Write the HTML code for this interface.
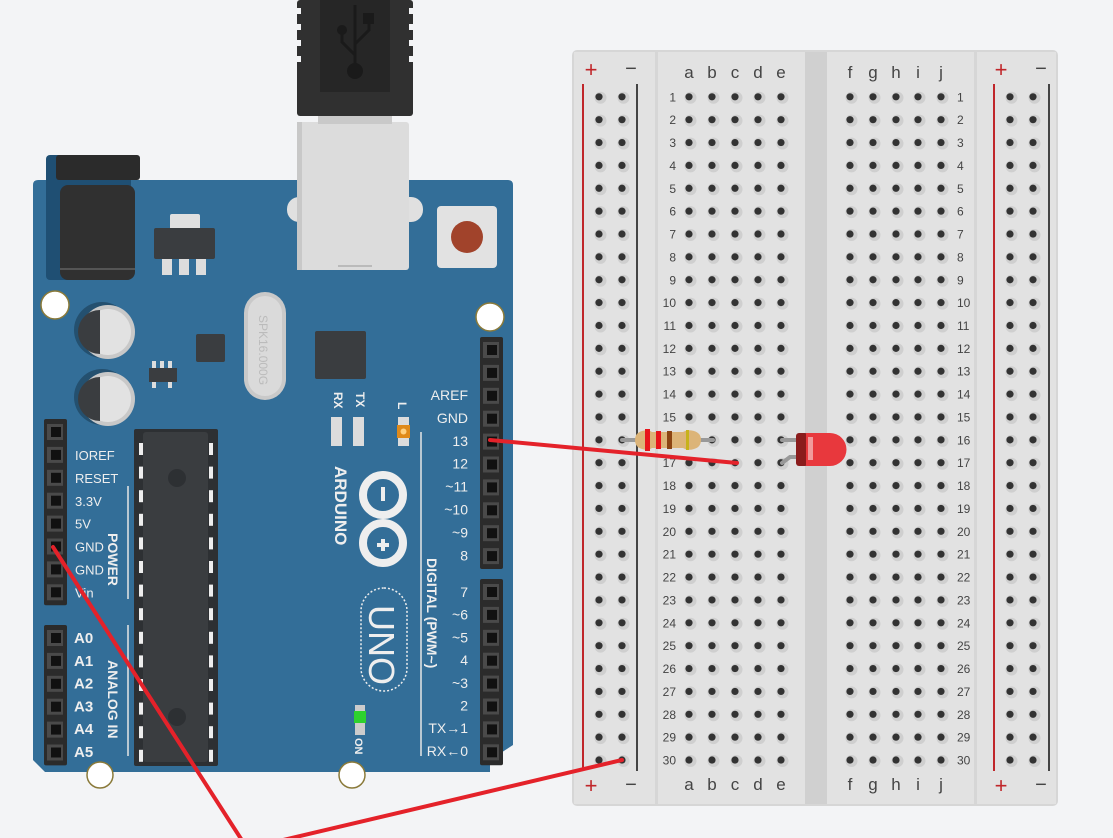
<!DOCTYPE html>
<html><head><meta charset="utf-8"><style>
html,body{margin:0;padding:0;background:#f3f4f6;}
svg{display:block;}
text{font-family:"Liberation Sans","DejaVu Sans",sans-serif;}
</style></head><body>
<svg id="s" width="1113" height="838" viewBox="0 0 1113 838" xmlns="http://www.w3.org/2000/svg">
<rect width="1113" height="838" fill="#f3f4f6"/>
<!-- Breadboard -->
<rect x="572" y="50" width="486" height="756" rx="5" fill="#d6d6d6"/>
<rect x="574" y="52" width="81" height="752" fill="#e2e2e2"/>
<rect x="658" y="52" width="147" height="752" fill="#e2e2e2"/>
<rect x="805" y="52" width="22" height="752" fill="#d0d0d0"/>
<rect x="827" y="52" width="147" height="752" fill="#e2e2e2"/>
<rect x="977" y="52" width="79" height="752" fill="#e2e2e2"/>
<line x1="583" y1="84" x2="583" y2="771" stroke="#c0262a" stroke-width="2"/>
<line x1="637" y1="84" x2="637" y2="771" stroke="#444" stroke-width="2"/>
<line x1="994" y1="84" x2="994" y2="771" stroke="#c0262a" stroke-width="2"/>
<line x1="1049" y1="84" x2="1049" y2="771" stroke="#444" stroke-width="2"/>
<g font-size="22" fill="#c0262a" text-anchor="middle"><text x="591" y="77">+</text><text x="591" y="793">+</text><text x="1001" y="77">+</text><text x="1001" y="793">+</text></g>
<g font-size="20" fill="#444" text-anchor="middle"><text x="631" y="75">−</text><text x="631" y="791">−</text><text x="1041" y="75">−</text><text x="1041" y="791">−</text></g>
<g id="bb"></g>
<!-- Arduino board -->
<path d="M38 180 H508 Q513 180 513 185 V745 L490 760 V772 H45 L33 760 V185 Q33 180 38 180 Z" fill="#336e98"/>
<!-- USB -->
<rect x="287" y="197" width="136" height="25" rx="12" fill="#e0e0e0"/>
<rect x="297" y="122" width="112" height="148" rx="3" fill="#dcdcdc"/>
<rect x="297" y="122" width="5" height="148" fill="#c8c8c8"/>
<line x1="338" y1="266" x2="372" y2="266" stroke="#999" stroke-width="1"/>
<rect x="318" y="114" width="74" height="10" fill="#c9c9c9"/>
<rect x="297" y="0" width="116" height="116" rx="3" fill="#303030"/>
<rect x="320" y="0" width="70" height="92" fill="#262626"/>
<g fill="#f3f4f6"><rect x="297" y="8" width="4" height="6"/><rect x="297" y="24" width="4" height="6"/><rect x="297" y="40" width="4" height="6"/><rect x="297" y="56" width="4" height="6"/><rect x="409" y="8" width="4" height="6"/><rect x="409" y="24" width="4" height="6"/><rect x="409" y="40" width="4" height="6"/><rect x="409" y="56" width="4" height="6"/></g>
<g stroke="#1a1a1a" stroke-width="3" fill="none"><line x1="355" y1="5" x2="355" y2="70"/><path d="M342 30 V42 L355 55"/><path d="M369 18 V30 L355 44"/></g>
<circle cx="355" cy="71" r="8" fill="#1a1a1a"/><circle cx="342" cy="30" r="5" fill="#1a1a1a"/><rect x="363" y="13" width="11" height="11" fill="#1a1a1a"/>
<!-- Power jack -->
<rect x="46" y="155" width="85" height="125" rx="4" fill="#1f4f73"/>
<rect x="56" y="155" width="84" height="25" rx="3" fill="#2b2b2b"/>
<rect x="60" y="185" width="75" height="95" rx="8" fill="#303030"/>
<rect x="60" y="268" width="75" height="2" fill="#555"/>
<!-- regulator -->
<rect x="170" y="214" width="30" height="16" rx="2" fill="#e0e0e0"/>
<rect x="154" y="228" width="61" height="31" rx="2" fill="#3a3d40"/>
<rect x="162" y="259" width="10" height="16" fill="#ddd"/><rect x="179" y="259" width="10" height="16" fill="#ddd"/><rect x="196" y="259" width="10" height="16" fill="#ddd"/>
<!-- reset -->
<rect x="437" y="206" width="60" height="62" rx="4" fill="#e2e2e2"/>
<circle cx="467" cy="237" r="16" fill="#a1432b"/>
<!-- mount holes -->
<g fill="#fff" stroke="#8a7a3a" stroke-width="1.5"><circle cx="55" cy="305" r="14"/><circle cx="490" cy="317" r="14"/><circle cx="100" cy="775" r="13"/><circle cx="352" cy="775" r="13"/></g>
<!-- caps -->
<g><circle cx="102" cy="330" r="28" fill="#24506f"/><circle cx="108" cy="332" r="27" fill="#c8c8c8"/><circle cx="108" cy="332" r="23" fill="#e2e2e2"/><path d="M100 310 A22 22 0 0 0 100 354 Z" fill="#3a3d40"/>
<circle cx="102" cy="397" r="28" fill="#24506f"/><circle cx="108" cy="399" r="27" fill="#c8c8c8"/><circle cx="108" cy="399" r="23" fill="#e2e2e2"/><path d="M100 377 A22 22 0 0 0 100 421 Z" fill="#3a3d40"/></g>
<rect x="196" y="334" width="29" height="28" rx="2" fill="#3a3d40"/>
<rect x="149" y="368" width="28" height="14" fill="#3a3d40"/>
<g fill="#ddd"><rect x="152" y="361" width="4" height="7"/><rect x="160" y="361" width="4" height="7"/><rect x="168" y="361" width="4" height="7"/><rect x="152" y="382" width="4" height="6"/><rect x="168" y="382" width="4" height="6"/></g>
<!-- crystal -->
<rect x="244" y="292" width="42" height="108" rx="21" fill="#c9c9c9"/><rect x="248" y="296" width="34" height="100" rx="17" fill="#dadada"/>
<text transform="translate(259,315) rotate(90)" font-size="12" fill="#bbb">SPK16.000G</text>
<rect x="315" y="331" width="51" height="48" rx="2" fill="#3a3d40"/>
<!-- RX TX L leds -->
<g font-size="12" fill="#eee" font-weight="bold"><text transform="translate(334,392) rotate(90)">RX</text><text transform="translate(356,392) rotate(90)">TX</text><text transform="translate(398,402) rotate(90)">L</text></g>
<rect x="331" y="417" width="11" height="29" fill="#dcdcdc"/><rect x="353" y="417" width="11" height="29" fill="#dcdcdc"/>
<rect x="398" y="417" width="11" height="29" fill="#dcdcdc"/><rect x="397" y="425" width="13" height="13" fill="#e08a1a"/><circle cx="403.5" cy="431.5" r="3" fill="#ffd080"/>
<!-- chip -->
<rect x="134" y="429" width="84" height="337" rx="2" fill="#2d3033"/>
<rect x="143" y="432" width="65" height="330" rx="3" fill="#3a3d40"/>
<circle cx="177" cy="478" r="9" fill="#2d3033"/><circle cx="177" cy="717" r="9" fill="#2d3033"/>
<g id="chippins"></g>
<!-- label lines -->
<g stroke="#e6e6e6" stroke-width="1.5"><line x1="128" y1="486" x2="128" y2="599"/><line x1="128" y1="625" x2="128" y2="756"/><line x1="421" y1="432" x2="421" y2="756"/></g>
<g font-size="12" fill="#eee" font-weight="bold"><text transform="translate(108,533) rotate(90)" font-size="14">POWER</text><text transform="translate(108,660) rotate(90)" font-size="14">ANALOG IN</text>
<text transform="translate(427,558) rotate(90)" font-size="14">DIGITAL (PWM~)</text>
<text transform="translate(335,466) rotate(90)" font-size="17">ARDUINO</text></g>
<!-- logo -->
<g fill="none" stroke="#eee" stroke-width="8"><circle cx="383" cy="495" r="20"/><circle cx="383" cy="543" r="20"/></g>
<rect x="381" y="487" width="4" height="14" fill="#eee"/>
<path d="M377 545 h12 M383 539 v12" stroke="#eee" stroke-width="4"/>
<rect x="361" y="588" width="46" height="103" rx="23" fill="none" stroke="#eee" stroke-width="1.5" stroke-dasharray="2 2"/>
<text transform="translate(369,605) rotate(90)" font-size="36" fill="#eee">UNO</text>
<rect x="355" y="705" width="10" height="30" fill="#ccc"/><rect x="354" y="711" width="12" height="12" fill="#2ed12e"/>
<text transform="translate(355,738) rotate(90)" font-size="11" fill="#eee" font-weight="bold">ON</text>
<g id="hdr"></g>
<g font-size="13" fill="#eee" id="lbl"></g>
<!-- resistor -->
<line x1="622" y1="440" x2="713" y2="440" stroke="#999" stroke-width="4" stroke-linecap="round"/>
<path d="M642 431 Q648 429 652 432 H683 Q688 429 694 431 Q701 433 701 440 Q701 447 694 449 Q688 451 683 448 H652 Q648 451 642 449 Q635 447 635 440 Q635 433 642 431 Z" fill="#dcb478"/>
<rect x="645" y="429" width="5" height="22" fill="#e8151b"/><rect x="656" y="431" width="5" height="18" fill="#e8151b"/><rect x="667" y="431" width="5" height="18" fill="#8b4513"/><rect x="686" y="430" width="3" height="20" fill="#c7b21a"/>
<!-- LED -->
<line x1="782" y1="440" x2="800" y2="440" stroke="#999" stroke-width="4" stroke-linecap="round"/>
<path d="M782 463 L790 457 H800" stroke="#999" stroke-width="4" fill="none" stroke-linecap="round"/>
<rect x="796" y="433" width="12" height="33" rx="3" fill="#8a1c1c"/>
<path d="M806 433 H830 A16 16 0 0 1 830 466 H806 Z" fill="#e8383d"/>
<rect x="808" y="437" width="5" height="23" fill="#f19a9c"/>
<!-- wires -->
<g stroke="#e4222a" stroke-width="4" fill="none" stroke-linecap="round">
<line x1="490" y1="440" x2="737" y2="463"/>
<polyline points="53,547 245,845"/>
<polyline points="262,845 622,760"/>
</g>
</svg>
<script>
var NS="http://www.w3.org/2000/svg";
function el(p,t,a,txt){var e=document.createElementNS(NS,t);for(var k in a)e.setAttribute(k,a[k]);if(txt!==undefined)e.textContent=txt;document.getElementById(p).appendChild(e);return e;}
function hole(x,y){el("bb","circle",{cx:x+1.5,cy:y+1,r:6,fill:"#cfcfcf"});el("bb","circle",{cx:x,cy:y,r:3.6,fill:"#333"});}
var L=[689,712,735,758,781],R=[850,873,896,918,941],rails=[599,622,1010,1033];
for(var r=0;r<30;r++){var y=96.8+r*22.87;
 L.concat(R).concat(rails).forEach(function(x){hole(x,y);});
 el("bb","text",{x:676,y:y+4.5,"font-size":12,fill:"#444","text-anchor":"end"},r+1);
 el("bb","text",{x:957,y:y+4.5,"font-size":12,fill:"#444"},r+1);}
"abcde".split("").forEach(function(c,i){el("bb","text",{x:L[i],y:78,"font-size":17,fill:"#444","text-anchor":"middle"},c);el("bb","text",{x:L[i],y:790,"font-size":17,fill:"#444","text-anchor":"middle"},c);});
"fghij".split("").forEach(function(c,i){el("bb","text",{x:R[i],y:78,"font-size":17,fill:"#444","text-anchor":"middle"},c);el("bb","text",{x:R[i],y:790,"font-size":17,fill:"#444","text-anchor":"middle"},c);});
function header(x,y0,n){el("hdr","rect",{x:x-11,y:y0-13,width:23,height:n*22.9+3,rx:2,fill:"#2b2b2b"});
 for(var i=0;i<n;i++){var y=y0+i*22.9;el("hdr","rect",{x:x-8,y:y-8,width:16,height:16,fill:"#4a4a4a"});el("hdr","rect",{x:x-4,y:y-5,width:10,height:10,fill:"#111"});}}
header(491,350,10);header(491,592,8);header(55,432,8);header(55,638,6);
var dl=["AREF","GND","13","12","~11","~10","~9","8"];dl.forEach(function(t,i){el("lbl","text",{x:468,y:400+i*22.9,"text-anchor":"end","font-size":14},t);});
var dl2=["7","~6","~5","4","~3","2","TX→1","RX←0"];dl2.forEach(function(t,i){el("lbl","text",{x:468,y:597+i*22.7,"text-anchor":"end","font-size":14},t);});
var pl=["IOREF","RESET","3.3V","5V","GND","GND","Vin"];pl.forEach(function(t,i){el("lbl","text",{x:75,y:460+i*22.9},t);});
var al=["A0","A1","A2","A3","A4","A5"];al.forEach(function(t,i){el("lbl","text",{x:74,y:643+i*22.8,"font-size":15,"font-weight":"bold"},t);});
for(var i=0;i<14;i++){var y=443+i*23.6;el("chippins","rect",{x:139,y:y,width:4,height:12,fill:"#eee"});el("chippins","rect",{x:209,y:y,width:4,height:12,fill:"#eee"});}
</script>
</body></html>
